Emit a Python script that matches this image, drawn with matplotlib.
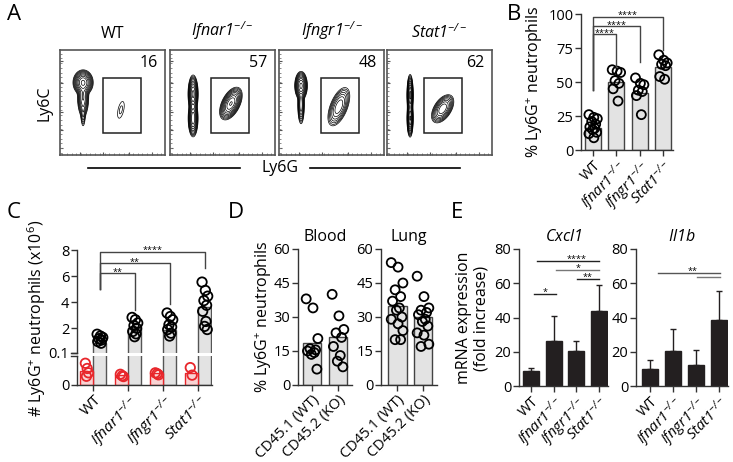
import numpy as np
import matplotlib
matplotlib.use('Agg')
import matplotlib.pyplot as plt
from matplotlib.lines import Line2D
from matplotlib.patches import Rectangle
from matplotlib.ticker import FormatStrFormatter

plt.rcParams['font.family'] = ['Open Sans', 'DejaVu Sans']
plt.rcParams['mathtext.fontset'] = 'custom'
plt.rcParams['mathtext.rm'] = 'Open Sans:italic'
plt.rcParams['mathtext.it'] = 'Open Sans:italic'
plt.rcParams['mathtext.sf'] = 'Open Sans'
plt.rcParams['mathtext.bf'] = 'Open Sans:bold'
plt.rcParams['axes.linewidth'] = 1.0

# ---------------- data ----------------
genotypes = ['WT', 'Ifnar1', 'Ifngr1', 'Stat1']
gate_pct = [16, 57, 48, 62]

# flow populations (x, y, sx, sy, rho, weight), as fractions of the plot
pops_wt = [(0.22, 0.69, 0.032, 0.040, 0.0, 1.0), (0.22, 0.55, 0.020, 0.070, 0.0, 0.35),
           (0.22, 0.40, 0.010, 0.060, 0.0, 0.08), (0.58, 0.43, 0.028, 0.070, 0.5, 0.02)]
pops_ifnar1 = [(0.22, 0.58, 0.016, 0.060, 0.0, 1.0), (0.22, 0.35, 0.016, 0.060, 0.0, 0.8),
               (0.58, 0.49, 0.036, 0.052, 0.5, 0.9)]
pops_ifngr1 = [(0.21, 0.66, 0.020, 0.045, 0.0, 1.0), (0.21, 0.48, 0.012, 0.070, 0.0, 0.3),
               (0.57, 0.46, 0.040, 0.070, 0.55, 0.3)]
pops_stat1 = [(0.22, 0.57, 0.010, 0.065, 0.0, 1.0), (0.22, 0.35, 0.010, 0.060, 0.0, 0.9),
              (0.53, 0.44, 0.038, 0.048, 0.5, 0.5)]
flow_pops = [pops_wt, pops_ifnar1, pops_ifngr1, pops_stat1]
gate_x0 = [0.41, 0.39, 0.40, 0.35]

# B: % Ly6G+ neutrophils
pct_means = [16, 50, 42, 61]
pct_wt = [26, 24, 23, 21, 19, 17, 16, 15, 13, 12, 9]
pct_ifnar1 = [59, 58, 57, 51, 49, 45, 36]
pct_ifngr1 = [53, 49, 48, 44, 43, 40, 26]
pct_stat1 = [70, 66, 64, 63, 62, 54, 52]
pct_pts = [pct_wt, pct_ifnar1, pct_ifngr1, pct_stat1]

# C: # Ly6G+ neutrophils (x10^6); red = low group, gray = high group
red_means = [0.05, 0.033, 0.04, 0.043]
red_wt = [0.075, 0.057, 0.042, 0.030]
red_ifnar1 = [0.037, 0.032, 0.029]
red_ifngr1 = [0.042, 0.039, 0.035]
red_stat1 = [0.060, 0.034]
red_pts = [red_wt, red_ifnar1, red_ifngr1, red_stat1]
gray_means = [0.9, 2.0, 1.85, 3.6]
gray_wt = [1.54, 1.4, 1.29, 1.2, 1.1, 0.98, 0.85]
gray_ifnar1 = [2.83, 2.65, 2.4, 2.2, 2.0, 1.75, 1.57, 1.35]
gray_ifngr1 = [3.17, 2.9, 2.65, 2.27, 2.1, 1.9, 1.62, 1.4]
gray_stat1 = [5.54, 4.9, 4.46, 4.12, 3.76, 3.3, 2.52, 2.14, 1.9]
gray_pts = [gray_wt, gray_ifnar1, gray_ifngr1, gray_stat1]

# D: mixed chimeras
chim_labels = ['CD45.1 (WT)', 'CD45.2 (KO)']
blood_means = [18.5, 21]
blood_wt = [38, 34, 20.5, 16, 15.5, 15, 14.3, 13.5, 7]
blood_ko = [40, 30.5, 24.5, 23, 21, 17, 13, 10.5, 8]
lung_means = [35, 30]
lung_wt = [54, 52, 45, 42, 39, 37, 34, 33, 30, 29, 27, 24, 20, 20]
lung_ko = [48, 39, 34, 33, 32, 31, 29, 28, 26, 23, 22, 18, 17]

# E: mRNA expression (fold increase)
cxcl1_means = [8.5, 26, 20.5, 44]
cxcl1_err = [2, 15, 6, 15]
il1b_means = [10, 20.5, 12.5, 38.5]
il1b_err = [5, 12.5, 8.5, 17]

# ---------------- helpers ----------------
W, H = 733, 462
fig = plt.figure(figsize=(W / 100, H / 100), dpi=100)


def px_axes(x0, y0, x1, y1):
    return fig.add_axes([x0 / W, 1 - y1 / H, (x1 - x0) / W, (y1 - y0) / H])


def ftext(x, y, s, **kw):
    fig.text(x / W, 1 - y / H, s, **kw)


def gt_label(g):
    if g == 'WT':
        return 'WT'
    return r'$\mathit{' + g + r'}^{-/-}$'


def style(ax):
    for s in ('top', 'right'):
        ax.spines[s].set_visible(False)
    for s in ('left', 'bottom'):
        ax.spines[s].set_color('#333333')
    ax.tick_params(length=4, width=1, color='#333333', labelsize=10.5, pad=1.5)


def swarm(n, spread=0.2):
    pat = np.array([-0.9, 0.15, 0.9, -0.3, 0.55, -0.7, 0.35, -0.1, 0.75])
    return pat[np.arange(n) % len(pat)] * spread


def dots(ax, xc, vals, color='k', spread=0.2, s=42):
    ax.scatter(xc + swarm(len(vals), spread), vals, s=s, facecolor='none',
               edgecolor=color, linewidth=1.3, zorder=3, clip_on=False)


def xlabels(ax, labels, fs=10.5):
    ax.set_xticks(range(len(labels)))
    ax.set_xticklabels(labels, rotation=45, ha='right', rotation_mode='anchor', fontsize=fs)


def stars(ax, x, y, txt):
    ax.annotate(txt, (x, y), xytext=(0, -1.0), textcoords='offset points', ha='center',
                va='baseline', fontsize=6.5, annotation_clip=False)


def bracket(ax, x1, x2, y, y1, y2, txt, color='#444444'):
    ax.plot([x1, x1, x2, x2], [y1, y, y, y2], color=color, lw=1, clip_on=False, zorder=4)
    stars(ax, (x1 + x2) / 2, y, txt)


def sigline(ax, x1, x2, y, txt=None, color='#222222', tx=None):
    ax.plot([x1, x2], [y, y], color=color, lw=1, clip_on=False)
    if txt:
        stars(ax, (x1 + x2) / 2 if tx is None else tx, y, txt)


# ---------------- panel A ----------------
ftext(14, 15, 'A', fontsize=16, ha='center', va='center')
g = np.linspace(0, 1, 300)
X, Y = np.meshgrid(g, g)
box_left = [60, 170, 279, 387]
for i, left in enumerate(box_left):
    ax = px_axes(left, 50, left + 105, 155)
    Z = np.zeros_like(X)
    for cx, cy, sx, sy, r, w in flow_pops[i]:
        dx, dy = (X - cx) / sx, (Y - cy) / sy
        Z += w * np.exp(-(dx ** 2 - 2 * r * dx * dy + dy ** 2) / (2 * (1 - r ** 2)))
    levels = Z.max() * np.geomspace(0.01, 0.85, 10)
    ax.contour(X, Y, Z, levels=levels, colors='k', linewidths=0.5)
    ax.add_patch(Rectangle((gate_x0[i], 0.21), 0.36, 0.52, fill=False, lw=1.1, ec='#222222'))
    ax.text(0.93, 0.88, str(gate_pct[i]), transform=ax.transAxes, ha='right', va='center',
            fontsize=11.5)
    ax.set_xlim(0, 1)
    ax.set_ylim(0, 1)
    for s in ax.spines.values():
        s.set_color('#555555')
        s.set_linewidth(1.2)
    ax.set_xticks([0.19, 0.41, 0.66, 0.88])
    ax.set_yticks([0.07, 0.24, 0.41, 0.69, 0.90])
    ax.set_xticks(np.arange(0.02, 1, 0.045), minor=True)
    ax.set_yticks(np.arange(0.02, 1, 0.045), minor=True)
    ax.tick_params(which='major', direction='in', length=2.5, width=0.8, color='#555555',
                   labelbottom=False, labelleft=False)
    ax.tick_params(which='minor', direction='in', length=1.2, width=0.6, color='#777777')
    ax.text(0.5, 1.08, gt_label(genotypes[i]), transform=ax.transAxes, ha='center',
            va='bottom', fontsize=11.5)
ftext(45, 103, 'Ly6C', rotation=90, ha='center', va='center', fontsize=11.5)
ftext(280, 168, 'Ly6G', ha='center', va='center', fontsize=11.5)
fig.add_artist(Line2D([88 / W, 240 / W], [1 - 168 / H] * 2, color='k', lw=1.2))
fig.add_artist(Line2D([310 / W, 460 / W], [1 - 168 / H] * 2, color='k', lw=1.2))

# ---------------- panel B ----------------
ftext(514, 14, 'B', fontsize=16, ha='center', va='center')
ax = px_axes(581, 14, 673, 150)
style(ax)
xb = np.arange(4)
ax.bar(xb, pct_means, width=0.69, color='#e3e3e3', edgecolor='#444444', lw=1)
for i, v in enumerate(pct_pts):
    dots(ax, i, v)
ax.set_xlim(-0.52, 3.43)
ax.set_ylim(0, 100)
ax.set_yticks([0, 25, 50, 75, 100])
xlabels(ax, [gt_label(t) for t in genotypes])
ax.set_ylabel(r'% Ly6G$^{\mathsf{+}}$ neutrophils', fontsize=11.5, labelpad=2)
bracket(ax, 0, 1, 85, 44, 61, '****')
bracket(ax, 0, 2, 91, 44, 65, '****')
bracket(ax, 0, 3, 98, 44, 73.5, '****')

# ---------------- panel C ----------------
ftext(14, 213, 'C', fontsize=16, ha='center', va='center')
up = px_axes(77, 250, 212, 353)
lo = px_axes(77, 356, 212, 385)
grp = np.arange(4)
for a in (up, lo):
    style(a)
    a.bar(grp + 0.186, gray_means, width=0.37, color='#e3e3e3', edgecolor='#555555', lw=1)
    a.set_xlim(-0.47, 3.39)
lo.bar(grp - 0.186, red_means, width=0.37, color='#f9d3d3', edgecolor='#e8262b', lw=1)
for i in range(4):
    dots(up, i + 0.186, gray_pts[i], spread=0.09, s=46)
    dots(lo, i - 0.186, red_pts[i], color='#e8262b', spread=0.05, s=46)
up.set_ylim(0.1, 8)
up.set_yticks([0.1, 2, 4, 6, 8])
up.yaxis.set_major_formatter(FormatStrFormatter('%g'))
up.spines['bottom'].set_visible(False)
up.set_xticks([])
lo.set_ylim(0, 0.1)
lo.set_yticks([0])
xlabels(lo, [gt_label(t) for t in genotypes], fs=11)
up.plot([-0.045, 0.0], [0, 0], transform=up.transAxes, color='#333333', lw=1, clip_on=False)
lo.plot([-0.045, 0.0], [1, 1], transform=lo.transAxes, color='#333333', lw=1, clip_on=False)
bracket(up, 0.186, 1.186, 6.2, 5.0, 3.4, '**')
bracket(up, 0.186, 2.186, 7.0, 5.0, 3.85, '**')
bracket(up, 0.186, 3.186, 7.85, 5.0, 6.6, '****')
ftext(37, 318, r'# Ly6G$^{\mathsf{+}}$ neutrophils (x10$^{\mathsf{6}}$)', rotation=90,
      ha='center', va='center', fontsize=11.5)

# ---------------- panel D ----------------
ftext(236, 213, 'D', fontsize=16, ha='center', va='center')
blood = px_axes(298, 249, 352, 385)
lung = px_axes(381, 249, 437, 385)
for a, means, pts, title, xl in ((blood, blood_means, [blood_wt, blood_ko], 'Blood', -0.54),
                                  (lung, lung_means, [lung_wt, lung_ko], 'Lung', -0.62)):
    style(a)
    a.bar([0, 1], means, width=0.73, color='#e3e3e3', edgecolor='#444444', lw=1)
    for i, v in enumerate(pts):
        dots(a, i, v, spread=0.25)
    a.set_xlim(xl, 1.54)
    a.set_ylim(0, 60)
    a.set_yticks([0, 15, 30, 45, 60])
    xlabels(a, chim_labels)
    a.set_title(title, fontsize=11.5, pad=6)
ftext(263, 317, r'% Ly6G$^{\mathsf{+}}$ neutrophils', rotation=90, ha='center', va='center',
      fontsize=11.5)

# ---------------- panel E ----------------
ftext(457, 213, 'E', fontsize=16, ha='center', va='center')
cx = px_axes(519, 249, 608, 386)
il = px_axes(636, 249, 728, 386)
for a, means, err, title, xl in ((cx, cxcl1_means, cxcl1_err, 'Cxcl1', -0.53),
                                  (il, il1b_means, il1b_err, 'Il1b', -0.61)):
    style(a)
    a.bar(xb, means, width=0.7, color='#231f20', edgecolor='#231f20')
    a.errorbar(xb, means, yerr=[np.zeros(4), err], fmt='none', ecolor='#231f20',
               elinewidth=1, capsize=2.5, capthick=1)
    a.set_xlim(xl, 3.39)
    a.set_ylim(0, 80)
    a.set_yticks([0, 20, 40, 60, 80])
    xlabels(a, [gt_label(t) for t in genotypes])
    a.set_title(r'$\mathit{' + title + '}$', fontsize=11.5, pad=6)
sigline(cx, 0.13, 1.1, 54, '*')
sigline(cx, 0.26, 3.0, 73, '****', tx=2.0)
sigline(cx, 1.1, 3.0, 68, '*', color='#777777', tx=2.07)
sigline(cx, 2.03, 3.0, 62.5, '**', tx=2.5)
sigline(il, 0.35, 3.04, 66, '**', color='#555555', tx=1.87)
sigline(il, 2.04, 3.04, 63.5, None, color='#777777')
ftext(464, 318, 'mRNA expression', rotation=90, ha='center', va='center', fontsize=11.5)
ftext(482, 318, '(fold increase)', rotation=90, ha='center', va='center', fontsize=11.5)

fig.savefig('out.png', dpi=100)
